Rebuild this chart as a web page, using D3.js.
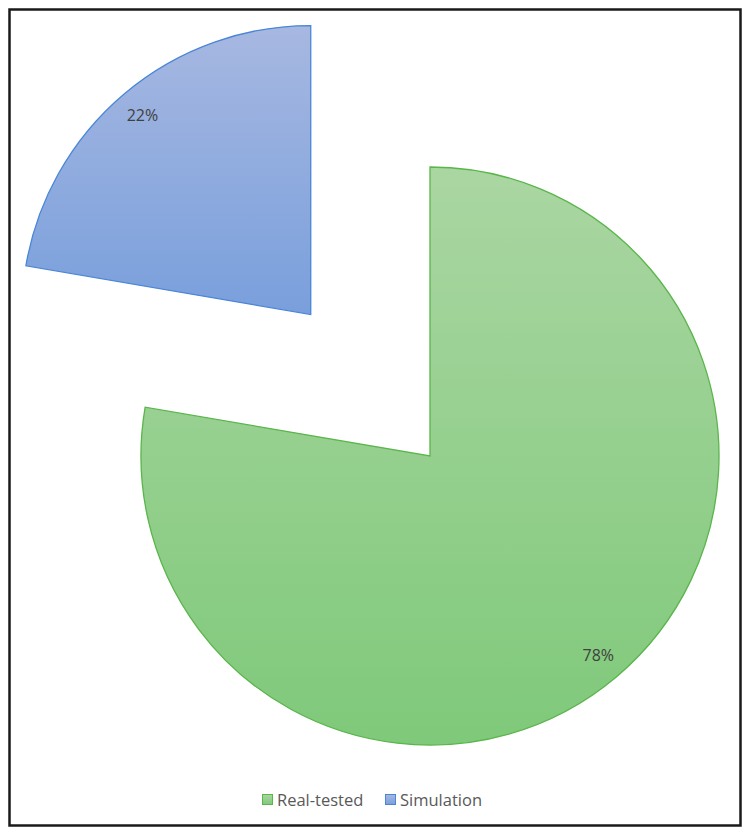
<!DOCTYPE html>
<html>
<head>
<meta charset="utf-8">
<script src="https://cdn.jsdelivr.net/npm/d3@7"></script>
<style>
  body { margin: 0; background: #fff; }
  text { font-family: "Open Sans", Lato, sans-serif; }
</style>
</head>
<body>
<div id="chart"></div>
<script>
// chart data
var categories = ["Real-tested", "Simulation"];
var values = [77.7, 22.3];

var svgWidth = 752;
var svgHeight = 835;

var svg = d3.select("#chart")
    .append("svg")
    .attr("width", svgWidth)
    .attr("height", svgHeight);

// outer frame
svg.append("rect")
    .attr("x", 9.5)
    .attr("y", 9.5)
    .attr("width", 731)
    .attr("height", 816)
    .attr("fill", "#fff")
    .attr("stroke", "#1a1a1a")
    .attr("stroke-width", 2.5);

// gradients per slice (light on top, darker at bottom)
var fills = [
  { id: "gGreen", top: "#aad6a2", bottom: "#7fc97a", stroke: "#5ab54b" },
  { id: "gBlue", top: "#a7b8e1", bottom: "#799fdc", stroke: "#4a86d6" }
];
var defs = svg.append("defs");
fills.forEach(function(f) {
  var g = defs.append("linearGradient")
      .attr("id", f.id)
      .attr("x1", 0).attr("y1", 0).attr("x2", 0).attr("y2", 1);
  g.append("stop").attr("offset", "0%").attr("stop-color", f.top);
  g.append("stop").attr("offset", "100%").attr("stop-color", f.bottom);
});

var radius = 289;
var cx = 430, cy = 456;
// how far each slice is pulled out
var explode = [0, 185];

var total = d3.sum(values);
var pie = d3.pie().sort(null).value(function(d) { return d; });
var arcs = pie(values);

var arc = d3.arc().innerRadius(0).outerRadius(radius);
var labelArc = d3.arc().innerRadius(261).outerRadius(261);

var pieGroup = svg.append("g")
    .attr("transform", `translate(${cx}, ${cy})`);

var slices = pieGroup.selectAll("g.slice")
    .data(arcs)
    .enter()
    .append("g")
    .attr("class", "slice")
    .attr("transform", function(d, i) {
      var mid = (d.startAngle + d.endAngle) / 2;
      var dx = Math.sin(mid) * explode[i];
      var dy = -Math.cos(mid) * explode[i];
      return `translate(${dx}, ${dy})`;
    });

slices.append("path")
    .attr("d", arc)
    .attr("fill", function(d, i) { return `url(#${fills[i].id})`; })
    .attr("stroke", function(d, i) { return fills[i].stroke; })
    .attr("stroke-width", 1.3)
    .attr("stroke-linejoin", "miter");

slices.append("text")
    .attr("transform", function(d) { return `translate(${labelArc.centroid(d)})`; })
    .attr("text-anchor", "middle")
    .attr("dy", "0.35em")
    .attr("font-size", "16px")
    .attr("fill", "#404040")
    .text(function(d) { return Math.round(d.value / total * 100) + "%"; });

// legend
var legend = svg.append("g")
    .attr("transform", "translate(262, 800)");
var legendX = [0, 123];
var item = legend.selectAll("g.item")
    .data(categories)
    .enter()
    .append("g")
    .attr("class", "item")
    .attr("transform", function(d, i) { return `translate(${legendX[i]}, 0)`; });
item.append("rect")
    .attr("x", 0.5)
    .attr("y", -5.5)
    .attr("width", 10)
    .attr("height", 10)
    .attr("fill", function(d, i) { return `url(#${fills[i].id})`; })
    .attr("stroke", function(d, i) { return fills[i].stroke; });
item.append("text")
    .attr("x", 15)
    .attr("dy", "0.35em")
    .attr("font-size", "16.5px")
    .attr("fill", "#595959")
    .text(function(d) { return d; });
</script>
</body>
</html>
